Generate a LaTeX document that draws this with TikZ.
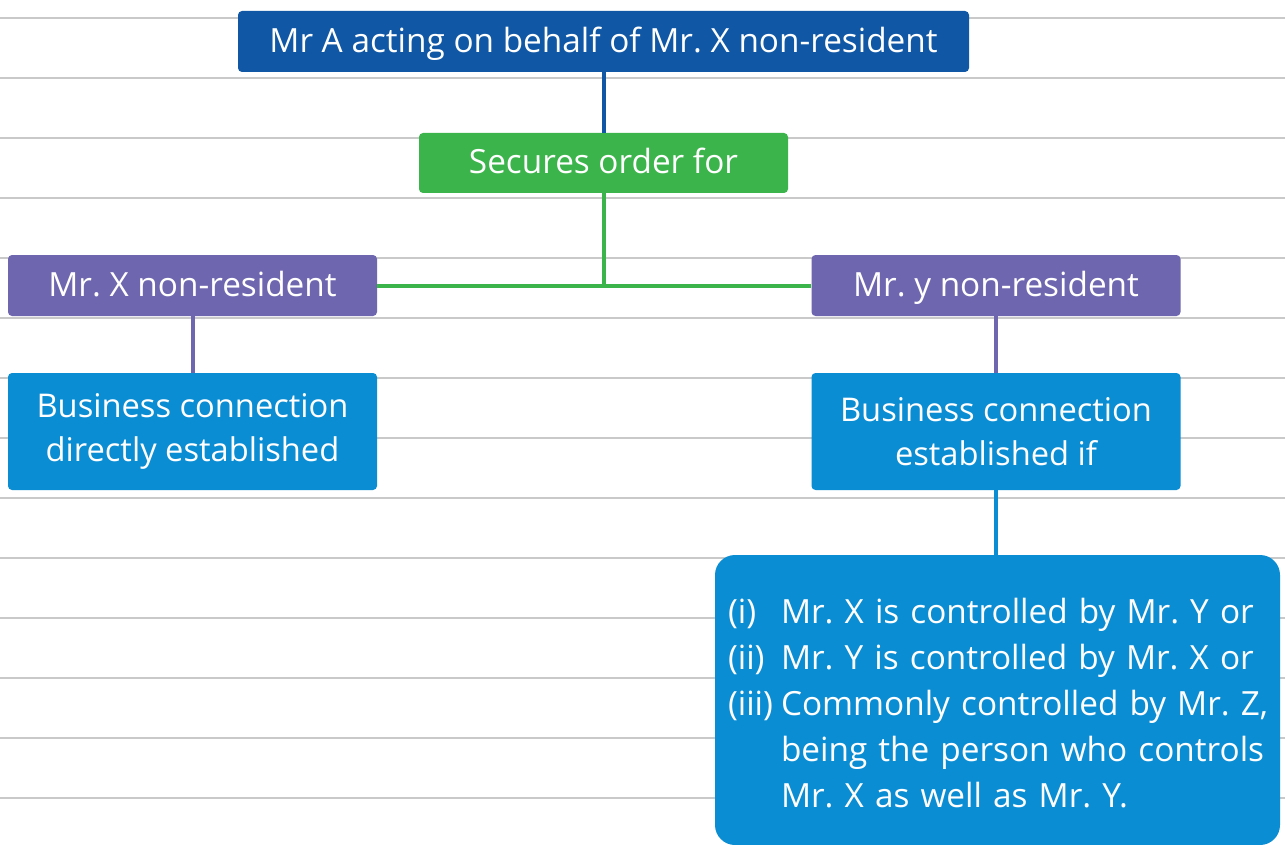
\documentclass[tikz,border=0pt]{standalone}
\usepackage{fontspec}
\setmainfont{Open Sans}
\frenchspacing
\definecolor{ruleGray}{HTML}{C9C9C9}
\definecolor{topBlue}{HTML}{1057A5}
\definecolor{orderGreen}{HTML}{3BB44B}
\definecolor{nrPurple}{HTML}{6E66AF}
\definecolor{bcBlue}{HTML}{0B8DD4}
\begin{document}
\begin{tikzpicture}[x=0.75pt,y=-0.75pt,
  box/.style={rectangle, rounded corners=3pt, inner sep=0pt, text=white,
              align=center, font=\fontsize{25}{33}\selectfont},
  oneline/.style={text height=18pt, text depth=2pt},
  topbox/.style={box, oneline, fill=topBlue, minimum width=731*0.75pt, minimum height=61*0.75pt},
  greenbox/.style={box, oneline, fill=orderGreen, minimum width=369*0.75pt, minimum height=60*0.75pt},
  purplebox/.style={box, oneline, fill=nrPurple, minimum width=369*0.75pt, minimum height=61*0.75pt},
  bluebox/.style={box, fill=bcBlue, font=\fontsize{24.5}{33}\selectfont,
                  minimum width=369*0.75pt, minimum height=117*0.75pt},
  bigbox/.style={box, fill=bcBlue, rounded corners=15pt, align=left,
                 font=\fontsize{25}{34.5}\selectfont,
                 text width=539*0.75pt, inner xsep=13*0.75pt,
                 minimum width=565*0.75pt, minimum height=290*0.75pt},
  link/.style={line width=3pt},
  ruled/.style={draw=ruleGray, line width=1.5pt}]
  \useasboundingbox[fill=white] (0,0) rectangle (1285,845);
  % ruled background lines
  \foreach \k in {0,...,13}
    \draw[ruled] (0,18+60*\k) -- (1285,18+60*\k);

  % boxes
  \node[topbox] (top) at (603.5,41.5) {Mr A acting on behalf of Mr. X non-resident};
  \node[greenbox] (order) at (603.5,163) {Secures order for};
  \node[purplebox] (nrx) at (192.5,285.5) {Mr. X non-resident};
  \node[purplebox] (nry) at (996,285.5) {Mr. y non-resident};
  \node[bluebox] (bcx) at (192.5,431.5) {Business connection\\directly established};
  \node[bluebox] (bcy) at (996,431.5) {Business connection\\established if};
  \node[bigbox] (cond) at (997.5,700) {%
    \begin{tabular}{@{}l@{\hspace{6pt}}l@{}}
      \rule{0pt}{34pt}(i) & Mr. X is controlled by Mr. Y or\\
      (ii) & Mr. Y is controlled by Mr. X or\\
      (iii) & Commonly controlled by Mr. Z,\\
       & being the person who controls\\
       & Mr. X as well as Mr. Y.
    \end{tabular}};

  % connectors
  \draw[link, topBlue] (top.south) -- (order.north);
  \draw[link, orderGreen] (order.south) -- (order.south |- nrx.east);
  \draw[link, orderGreen] (nrx.east) -- (nry.west);
  \draw[link, nrPurple] (nrx.south) -- (bcx.north);
  \draw[link, nrPurple] (nry.south) -- (bcy.north);
  \draw[link, bcBlue] (bcy.south) -- (bcy.south |- cond.north);
\end{tikzpicture}
\end{document}
